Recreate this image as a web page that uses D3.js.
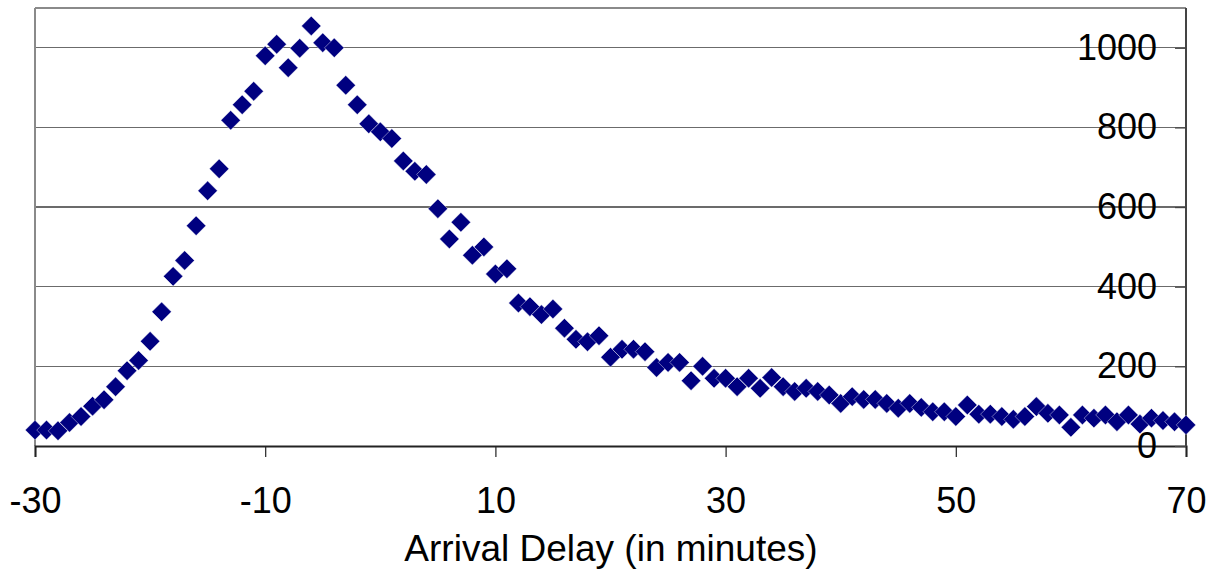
<!DOCTYPE html>
<html>
<head>
<meta charset="utf-8">
<script src="https://cdn.jsdelivr.net/npm/d3@7"></script>
<style>
  html, body { margin: 0; padding: 0; background: #fff; }
  svg { display: block; font-family: "Liberation Sans", Arial, sans-serif; }
</style>
</head>
<body>
<svg id="chart" width="1219" height="576"></svg>
<script>
// Data
const delays = d3.range(-30, 71); // -30 .. 70 minutes
const counts = [
  40, 40, 38, 59, 74, 100, 116, 149, 189, 215,
  263, 337, 426, 466, 553, 641, 696, 818, 857, 891,
  980, 1009, 950, 999, 1055, 1013, 1000, 906, 857, 809,
  789, 772, 716, 690, 682, 596, 520, 562, 479, 500,
  432, 445, 359, 350, 330, 344, 296, 268, 262, 277,
  223, 243, 243, 237, 197, 210, 210, 164, 200, 170,
  170, 149, 170, 145, 172, 149, 137, 145, 137, 128,
  107, 124, 117, 117, 107, 95, 107, 97, 86, 86,
  74, 103, 80, 80, 74, 67, 74, 99, 82, 78,
  47, 78, 70, 78, 61, 78, 55, 70, 64, 61,
  53
];
const xTicks = [-30, -10, 10, 30, 50, 70];
const yTicks = [0, 200, 400, 600, 800, 1000];
const xTitle = "Arrival Delay (in minutes)";

const svg = d3.select("#chart");
const mLeft = 35, mRight = 1186, mTop = 8, mBottom = 446;

const x = d3.scaleLinear().domain([-30, 70]).range([mLeft, mRight]);
const y = d3.scaleLinear().domain([0, 1100]).range([mBottom, mTop]);

// gridlines
svg.append("g").selectAll("line").data(yTicks.filter(d => d > 0)).join("line")
  .attr("x1", mLeft).attr("x2", mRight)
  .attr("y1", d => y(d)).attr("y2", d => y(d))
  .attr("stroke", "#6b6b6b").attr("stroke-width", 1.2).attr("shape-rendering", "crispEdges");

// plot border (top + left)
svg.append("line").attr("x1", mLeft).attr("x2", mRight).attr("y1", mTop).attr("y2", mTop)
  .attr("stroke", "#8a8a8a").attr("stroke-width", 2);
svg.append("line").attr("x1", mLeft).attr("x2", mLeft).attr("y1", mTop).attr("y2", mBottom)
  .attr("stroke", "#8a8a8a").attr("stroke-width", 2);

// x axis
const xAxis = d3.axisBottom(x).tickValues(xTicks).tickSize(11).tickPadding(30).tickFormat(d => String(d));
const gx = svg.append("g").attr("transform", `translate(0,${mBottom})`).call(xAxis);
gx.select(".domain").attr("stroke", "#222").attr("stroke-width", 2);
gx.selectAll(".tick line").attr("stroke", "#222").attr("stroke-width", 1.2);
gx.selectAll(".tick text").attr("font-size", 36).attr("fill", "#000")
  .attr("font-family", "'Liberation Sans', Arial, sans-serif");

// y axis (right side, ticks inward)
const yAxis = d3.axisLeft(y).tickValues(yTicks).tickSize(11).tickPadding(18).tickFormat(d => String(d));
const gy = svg.append("g").attr("transform", `translate(${mRight},0)`).call(yAxis);
gy.select(".domain").attr("stroke", "#444").attr("stroke-width", 2).attr("d", `M0,${mTop}V${mBottom}`);
gy.selectAll(".tick line").attr("stroke", "#444").attr("stroke-width", 1.2);
gy.selectAll(".tick text").attr("font-size", 36).attr("fill", "#000")
  .attr("font-family", "'Liberation Sans', Arial, sans-serif");

// points (diamonds)
const diamond = d3.symbol().type(d3.symbolSquare).size(190);
svg.append("g").selectAll("path").data(delays.map((d, i) => [d, counts[i]])).join("path")
  .attr("d", diamond)
  .attr("transform", d => `translate(${x(d[0])},${y(d[1])}) rotate(45)`)
  .attr("fill", "#000080")
  .attr("stroke", "#ffffff").attr("stroke-width", 0.4);

// x title
svg.append("text")
  .attr("x", 611).attr("y", 561)
  .attr("text-anchor", "middle")
  .attr("font-size", 37)
  .attr("fill", "#000")
  .text(xTitle);
</script>
</body>
</html>
